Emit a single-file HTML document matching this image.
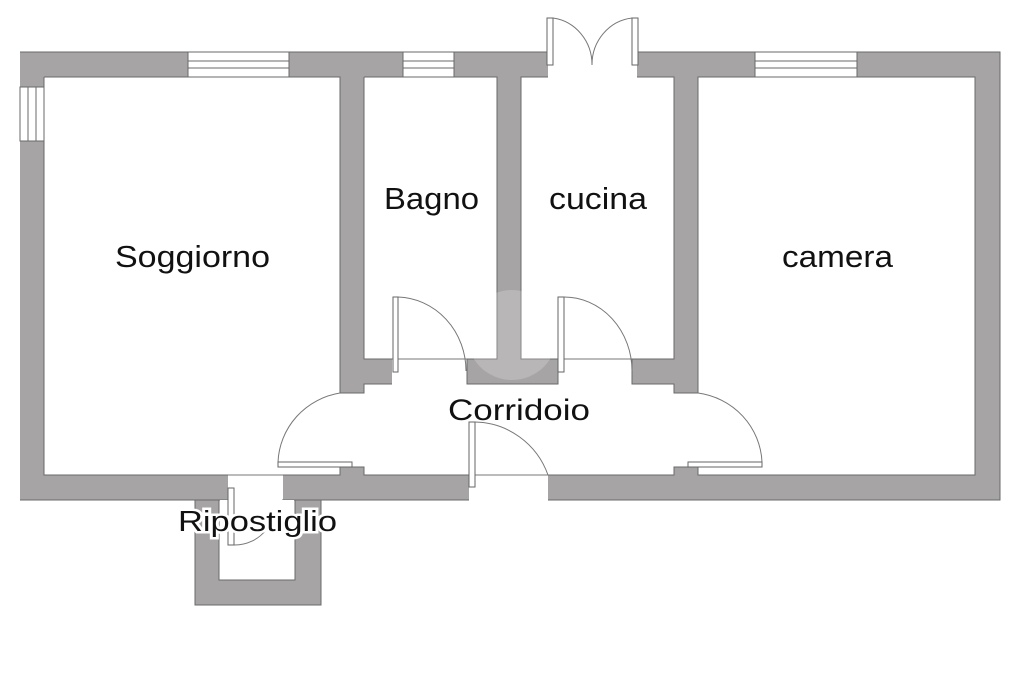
<!DOCTYPE html>
<html><head><meta charset="utf-8"><style>
html,body{margin:0;padding:0;background:#fff;width:1024px;height:682px;overflow:hidden}
text{font-family:"Liberation Sans",sans-serif;fill:#111}
</style></head><body>
<svg width="1024" height="682" viewBox="0 0 1024 682" xmlns="http://www.w3.org/2000/svg">
<g fill="#a7a4a5">
<rect x="20" y="52" width="980" height="25"/>
<rect x="20" y="52" width="24" height="448"/>
<rect x="975" y="52" width="25" height="448"/>
<rect x="20" y="475" width="208" height="25"/>
<rect x="283" y="475" width="186" height="25"/>
<rect x="548" y="475" width="452" height="25"/>
<rect x="340" y="52" width="24" height="341"/>
<rect x="497" y="52" width="24" height="307"/>
<rect x="674" y="52" width="24" height="341"/>
<rect x="364" y="359" width="28" height="25"/>
<rect x="467" y="359" width="91" height="25"/>
<rect x="632" y="359" width="42" height="25"/>
<rect x="340" y="467" width="24" height="8"/>
<rect x="674" y="467" width="24" height="8"/>
<path d="M195 500 H219 V580 H295 V500 H321 V605 H195 Z"/>
</g>
<g fill="none" stroke="#6a6a6a" stroke-width="1">
<path d="M20 52 H1000 V500 H548 M469 500 H321 V605 H195 V500 H20 Z"/>
<path d="M44 77 H340 V393 H364 V384 H392 M364 77 H497 V359 H467 V384 H558 V359 H521 V77 H674 V359 H632 V384 H674 V393 H698 V77 H975 V475 H698 V467 H674 V475 H548 M469 475 H364 V467 H340 V475 H283 M228 475 H44 V77"/>
<path d="M364 77 V359 H392"/>
<path d="M219 500 V580 H295 V500"/>
</g>
<g fill="#fff" stroke="#6a6a6a" stroke-width="1">
<rect x="188" y="52" width="101" height="25"/>
<line x1="188" y1="61" x2="289" y2="61"/><line x1="188" y1="68" x2="289" y2="68"/>
<rect x="403" y="52" width="51" height="25"/>
<line x1="403" y1="61" x2="454" y2="61"/><line x1="403" y1="68" x2="454" y2="68"/>
<rect x="755" y="52" width="102" height="25"/>
<line x1="755" y1="61" x2="857" y2="61"/><line x1="755" y1="68" x2="857" y2="68"/>
<rect x="20" y="87" width="24" height="54"/>
<line x1="28" y1="87" x2="28" y2="141"/><line x1="36" y1="87" x2="36" y2="141"/>
</g>
<rect x="548" y="51" width="89" height="27" fill="#fff"/>
<rect x="229" y="474" width="53" height="27" fill="#fff"/>
<rect x="470" y="474" width="77" height="27" fill="#fff"/>
<rect x="393" y="358" width="73" height="27" fill="#fff"/>
<rect x="559" y="358" width="72" height="27" fill="#fff"/>
<rect x="220" y="500" width="74" height="79" fill="#fff"/>
<g fill="none" stroke="#777" stroke-width="1">
<line x1="392" y1="359" x2="467" y2="359"/>
<line x1="558" y1="359" x2="632" y2="359"/>
<line x1="228" y1="475" x2="283" y2="475"/>
<line x1="469" y1="475" x2="548" y2="475"/>
<path d="M398 297 A70 74 0 0 1 466 371"/>
<path d="M564 297 A68 74 0 0 1 632 371"/>
<path d="M340 393 A74 73 0 0 0 278 462"/>
<path d="M698 393 A74 73 0 0 1 762 462"/>
<path d="M475 422 A79 80 0 0 1 548 475"/>
<path d="M553 18 A45 47 0 0 1 592 65"/>
<path d="M632 18 A45 47 0 0 0 592 65"/>
<path d="M234 545 A40 40 0 0 0 266 530"/>
</g>
<g fill="#fff" stroke="#666" stroke-width="1">
<rect x="393" y="297" width="5" height="75"/>
<rect x="558" y="297" width="6" height="75"/>
<rect x="278" y="462" width="74" height="5"/>
<rect x="688" y="462" width="74" height="5"/>
<rect x="469" y="422" width="6" height="65"/>
<rect x="547" y="18" width="6" height="47"/>
<rect x="632" y="18" width="6" height="47"/>
<rect x="228" y="488" width="6" height="57"/>
</g>
<circle cx="512" cy="335" r="45" fill="#fff" opacity="0.2"/>
<text x="115" y="267" font-size="31" textLength="155" lengthAdjust="spacingAndGlyphs">Soggiorno</text>
<text x="384" y="209" font-size="31" textLength="95" lengthAdjust="spacingAndGlyphs">Bagno</text>
<text x="549" y="209" font-size="31" textLength="98" lengthAdjust="spacingAndGlyphs">cucina</text>
<text x="782" y="267" font-size="31" textLength="111" lengthAdjust="spacingAndGlyphs">camera</text>
<text x="448" y="420" font-size="30" textLength="142" lengthAdjust="spacingAndGlyphs">Corridoio</text>
<text x="178" y="531" font-size="29" textLength="159" lengthAdjust="spacingAndGlyphs" stroke="#fff" stroke-width="5" paint-order="stroke">Ripostiglio</text>
</svg>
</body></html>
